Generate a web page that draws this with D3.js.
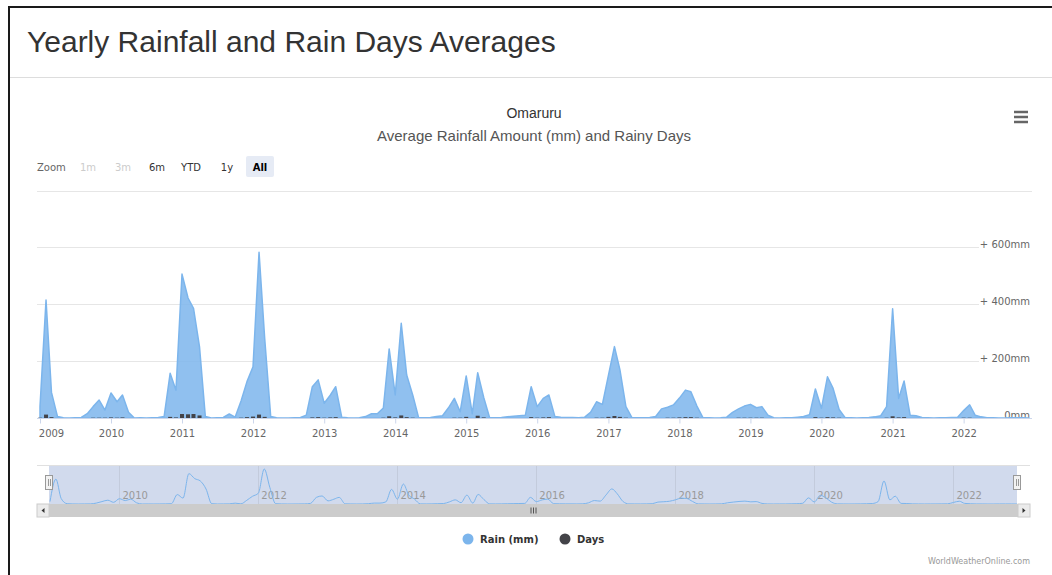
<!DOCTYPE html>
<html>
<head>
<meta charset="utf-8">
<script src="https://cdn.jsdelivr.net/npm/d3@7"></script>
<style>
  body { margin: 0; background: #fff; }
  svg { display: block; font-family: "DejaVu Sans", sans-serif; }
</style>
</head>
<body>
<svg id="chart" width="1052" height="575"></svg>
<script>
/* Omaruru — monthly rainfall (mm) and rainy days, Jan 2009 .. Dec 2022 */

const yearLabels = ['2009','2010','2011','2012','2013','2014','2015','2016','2017','2018','2019','2020','2021','2022'];
const navLabels = ['2010','2012','2014','2016','2018','2020','2022'];

// monthly rain, one row per year (Jan..Dec)
const rainMm = [
  40, 415, 90, 5, 1, 0, 1, 2, 15, 40, 63, 28,
  88, 57, 81, 20, 0, 1, 0, 1, 2, 5, 157, 98,
  506, 422, 386, 250, 5, 0, 1, 2, 14, 3, 61, 128,
  180, 583, 280, 5, 1, 0, 0, 1, 2, 10, 110, 134,
  52, 80, 110, 3, 1, 0, 1, 5, 15, 15, 35, 243,
  81, 333, 151, 81, 2, 1, 2, 5, 8, 35, 69, 22,
  148, 15, 159, 72, 2, 1, 2, 4, 6, 8, 10, 110,
  40, 69, 81, 5, 3, 2, 2, 1, 3, 20, 57, 48,
  150, 251, 170, 40, 2, 1, 1, 2, 5, 32, 38, 46,
  70, 98, 92, 42, 2, 1, 0, 1, 3, 20, 32, 42,
  48, 36, 40, 10, 1, 0, 1, 1, 3, 5, 12, 102,
  34, 145, 104, 30, 2, 1, 0, 1, 2, 4, 8, 40,
  384, 69, 130, 10, 8, 2, 1, 0, 1, 1, 2, 3,
  26, 46, 10, 4, 1, 1, 0, 0, 1, 1, 1, 0
];

// monthly rainy days
const rainDays = [
  1, 12, 3, 0, 0, 0, 0, 0, 0, 1, 1, 1,
  2, 1, 2, 0, 0, 0, 0, 0, 0, 0, 4, 2,
  14, 13, 14, 9, 0, 0, 0, 0, 0, 0, 1, 3,
  5, 12, 4, 0, 0, 0, 0, 0, 0, 0, 2, 3,
  1, 2, 3, 0, 0, 0, 0, 0, 0, 0, 1, 6,
  2, 9, 3, 1, 0, 0, 0, 0, 0, 0, 1, 1,
  4, 0, 8, 2, 0, 0, 0, 0, 0, 0, 0, 3,
  1, 2, 3, 0, 0, 0, 0, 0, 0, 0, 1, 1,
  4, 7, 4, 1, 0, 0, 0, 0, 0, 0, 1, 1,
  2, 3, 3, 1, 0, 0, 0, 0, 0, 0, 1, 1,
  1, 1, 1, 0, 0, 0, 0, 0, 0, 0, 0, 3,
  1, 3, 2, 1, 0, 0, 0, 0, 0, 0, 0, 1,
  6, 2, 3, 0, 0, 0, 0, 0, 0, 0, 0, 0,
  1, 1, 0, 0, 0, 0, 0, 0, 0, 0, 0, 0
];

const yTicks = [0, 200, 400, 600, 800];
const zoomButtons = ['1m', '3m', '6m', 'YTD', '1y', 'All'];
const legendItems = ['Rain (mm)', 'Days'];

const colors = { rain: '#7cb5ec', days: '#434348', grid: '#e6e6e6', text: '#666666' };

const months = d3.timeMonth.range(new Date(2009, 0, 1), new Date(2023, 0, 1));
const data = months.map((date, i) => ({ date, rain: rainMm[i], days: rainDays[i] }));

const svg = d3.select('#chart');

// page frame + heading
svg.append('path')
  .attr('d', 'M9,575 L9,7 L1052,7')
  .attr('fill', 'none').attr('stroke', '#1a1a1a').attr('stroke-width', 2);
svg.append('text')
  .attr('x', 27).attr('y', 52)
  .style('font-family', '"Liberation Sans", Arial, sans-serif')
  .style('font-size', '30px').attr('fill', '#333')
  .text('Yearly Rainfall and Rain Days Averages');
svg.append('line')
  .attr('x1', 10).attr('x2', 1052).attr('y1', 77.5).attr('y2', 77.5)
  .attr('stroke', '#dddddd');

// titles
svg.append('text')
  .attr('x', 534).attr('y', 118).attr('text-anchor', 'middle')
  .style('font-family', '"Liberation Sans", Arial, sans-serif')
  .style('font-size', '14px').attr('fill', '#333').text('Omaruru');
svg.append('text')
  .attr('x', 534).attr('y', 141).attr('text-anchor', 'middle')
  .style('font-family', '"Liberation Sans", Arial, sans-serif')
  .style('font-size', '15px').attr('fill', '#555').text('Average Rainfall Amount (mm) and Rainy Days');

// context menu icon
[112, 117, 122].forEach(yy => {
  svg.append('line')
    .attr('x1', 1014).attr('x2', 1028).attr('y1', yy).attr('y2', yy)
    .attr('stroke', '#666').attr('stroke-width', 2.5);
});

// range selector
svg.append('text').attr('x', 37).attr('y', 171)
  .style('font-size', '10px').attr('fill', '#666').text('Zoom');
const btnX = [88, 123, 157, 191, 227, 260];
zoomButtons.forEach((b, i) => {
  const selected = b === 'All';
  if (selected) {
    svg.append('rect').attr('x', btnX[i] - 14).attr('y', 156)
      .attr('width', 28).attr('height', 21).attr('rx', 2)
      .attr('fill', '#e6ebf5');
  }
  svg.append('text')
    .attr('x', btnX[i]).attr('y', 170.5).attr('text-anchor', 'middle')
    .style('font-size', '10px')
    .style('font-weight', selected ? 'bold' : 'normal')
    .attr('fill', i < 2 ? '#cccccc' : selected ? '#000' : '#333')
    .text(b);
});

// main plot
const x = d3.scaleTime()
  .domain([months[0], months[months.length - 1]])
  .range([40, 1028.6]);
const y = d3.scaleLinear().domain([0, 800]).range([418, 190.5]);

const grid = svg.append('g');
grid.selectAll('line')
  .data(yTicks.filter(t => t > 0))
  .join('line')
  .attr('x1', 37)
  .attr('x2', d => d === 800 ? 1032 : 979)
  .attr('y1', d => Math.round(y(d)) + 0.5)
  .attr('y2', d => Math.round(y(d)) + 0.5)
  .attr('stroke', colors.grid);

svg.append('g').selectAll('text')
  .data(yTicks.filter(t => t < 800))
  .join('text')
  .attr('x', 1030).attr('y', d => y(d) + 1)
  .attr('text-anchor', 'end')
  .style('font-size', '10px').attr('fill', colors.text)
  .text(d => d === 0 ? '0mm' : '+ ' + d + 'mm');

const area = d3.area()
  .x(d => x(d.date))
  .y0(y(0))
  .y1(d => y(d.rain));

svg.append('path')
  .datum(data)
  .attr('d', area)
  .attr('fill', colors.rain).attr('fill-opacity', 0.85)
  .attr('stroke', colors.rain).attr('stroke-width', 1.5)
  .attr('stroke-linejoin', 'round');

// days columns on the same axis
svg.append('g').selectAll('rect')
  .data(data.filter(d => d.days > 0))
  .join('rect')
  .attr('x', d => x(d.date) - 2)
  .attr('y', d => y(d.days))
  .attr('width', 4)
  .attr('height', d => y(0) - y(d.days))
  .attr('fill', colors.days);

// x axis
const xAxis = d3.axisBottom(x)
  .tickValues(yearLabels.map(yr => new Date(+yr, 0, 1)))
  .tickFormat(d3.timeFormat('%Y'))
  .tickSize(5).tickPadding(6);
const xg = svg.append('g').attr('transform', 'translate(0,418.5)').call(xAxis);
xg.select('.domain').attr('d', 'M37,0H1032').attr('stroke', '#ccd6eb');
xg.selectAll('.tick line').attr('stroke', '#ccd6eb');
xg.selectAll('.tick text')
  .style('font-size', '10px').style('font-family', '"DejaVu Sans", sans-serif')
  .attr('fill', colors.text);
xg.selectAll('.tick text').filter((d, i) => i === 0).attr('dx', 11);

// navigator
const navX = d3.scaleTime().domain(x.domain()).range([50, 1017]);
const navY = d3.scaleLinear().domain([0, 583]).range([504, 469]);

const nav = svg.append('g');
nav.append('rect').attr('x', 49).attr('y', 465).attr('width', 968).attr('height', 39)
  .attr('fill', 'rgba(102,133,194,0.3)');
nav.selectAll('line.ng')
  .data(navLabels)
  .join('line').attr('class', 'ng')
  .attr('x1', d => Math.round(navX(new Date(+d, 0, 1))) + 0.5)
  .attr('x2', d => Math.round(navX(new Date(+d, 0, 1))) + 0.5)
  .attr('y1', 465).attr('y2', 504)
  .attr('stroke', '#c3cbdc');
nav.selectAll('text')
  .data(navLabels)
  .join('text')
  .attr('x', d => navX(new Date(+d, 0, 1)) + 3)
  .attr('y', 499)
  .style('font-size', '10px').attr('fill', '#999').text(d => d);
nav.append('path')
  .datum(data)
  .attr('d', d3.line().x(d => navX(d.date)).y(d => navY(d.rain)).curve(d3.curveMonotoneX))
  .attr('fill', 'none').attr('stroke', colors.rain).attr('stroke-width', 1);
nav.append('line').attr('x1', 37).attr('x2', 1030).attr('y1', 465.5).attr('y2', 465.5)
  .attr('stroke', '#e0e0e0');

// handles
[49, 1017].forEach(hx => {
  nav.append('rect').attr('x', hx - 3.5).attr('y', 475.5).attr('width', 7).attr('height', 14)
    .attr('fill', '#f2f2f2').attr('stroke', '#999');
  nav.append('line').attr('x1', hx - 0.5).attr('x2', hx - 0.5).attr('y1', 479).attr('y2', 486)
    .attr('stroke', '#999');
  nav.append('line').attr('x1', hx + 1.5).attr('x2', hx + 1.5).attr('y1', 479).attr('y2', 486)
    .attr('stroke', '#999');
});

// scrollbar
nav.append('rect').attr('x', 37).attr('y', 504).attr('width', 993).attr('height', 13)
  .attr('fill', '#cccccc');
[37, 1018].forEach((bx, i) => {
  nav.append('rect').attr('x', bx).attr('y', 504).attr('width', 12).attr('height', 13)
    .attr('fill', '#ebebeb').attr('stroke', '#cccccc');
  const cx = bx + 6;
  nav.append('path')
    .attr('d', i === 0
      ? `M${cx + 1.5},${508} L${cx - 1.5},${510.5} L${cx + 1.5},${513} Z`
      : `M${cx - 1.5},${508} L${cx + 1.5},${510.5} L${cx - 1.5},${513} Z`)
    .attr('fill', '#333');
});
[531, 533.5, 536].forEach(gx => {
  nav.append('line').attr('x1', gx).attr('x2', gx).attr('y1', 507.5).attr('y2', 513.5)
    .attr('stroke', '#333').attr('stroke-width', 0.8);
});

// legend
const legX = [468, 565];
const legColors = [colors.rain, colors.days];
legendItems.forEach((name, i) => {
  svg.append('circle').attr('cx', legX[i]).attr('cy', 539).attr('r', 5.5)
    .attr('fill', legColors[i]);
  svg.append('text').attr('x', legX[i] + 12).attr('y', 543)
    .style('font-size', '10px').style('font-weight', 'bold')
    .attr('fill', '#333').text(name);
});

// credits
svg.append('text').attr('x', 1030).attr('y', 564).attr('text-anchor', 'end')
  .style('font-size', '8px').attr('fill', '#999').text('WorldWeatherOnline.com');
</script>
</body>
</html>
